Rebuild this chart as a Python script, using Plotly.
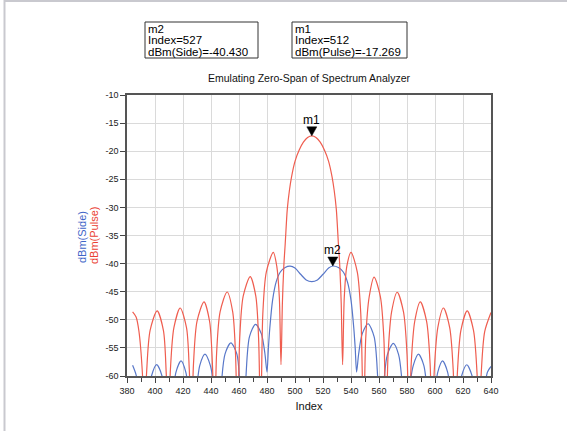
import plotly.graph_objects as go

# ---------------- data ----------------
pulse_index = [384, 386.5, 388.5, 391, 392.5, 394, 396.5, 401.5, 406, 408, 409.5,
               411, 413.5, 418, 422.5, 424.5, 426, 427.5, 430, 435, 439, 441, 442.5,
               444, 446.5, 451.5, 455.5, 457.5, 459, 460.5, 463, 468, 472, 474, 475.5,
               477, 479.5, 484.5, 487, 488.8, 490,
               491, 492, 493, 494.5, 496, 497.5, 500, 503, 506, 509, 512, 515, 518, 521,
               524, 526.5, 528, 529.5, 531, 532, 533, 534,
               535.2, 537, 540, 544.5, 547, 549,
               550.5, 553, 556.5, 561, 563.5, 565, 566.5, 569, 573, 577.5, 580, 581.5,
               583, 585.5, 589.5, 594, 596.5, 598, 599.5, 602, 606, 610.5, 613, 614.5,
               616, 618.5, 623, 627.5, 630, 631.5, 633, 635.5, 640]
pulse_dbm = [-48.6, -49.5, -52.0, -59.5, -70, -59.4, -51.9, -48.4, -51.9, -59.4, -70,
             -58.9, -51.4, -47.9, -51.4, -58.9, -70, -57.8, -50.3, -46.8, -50.3, -57.8, -70,
             -56.0, -48.6, -45.05, -48.6, -56.0, -70, -53.3, -45.8, -42.3, -45.8, -53.3, -70,
             -49.0, -41.5, -38.0, -40.5, -46.0, -58.0,
             -47.0, -40.5, -36.5, -30.3, -27.0, -24.6, -21.8, -19.8, -18.4, -17.55, -17.269,
             -17.55, -18.4, -19.8, -21.8, -24.6, -27.0, -30.3, -36.5, -40.5, -47.0, -58.0,
             -46.0, -40.5, -38.0, -41.5, -49.0, -70,
             -53.4, -45.9, -42.4, -45.9, -53.4, -70, -56.1, -48.6, -45.1, -48.6, -56.1, -70,
             -57.8, -50.3, -46.8, -50.3, -57.8, -70, -58.9, -51.4, -47.9, -51.4, -58.9, -70,
             -59.4, -51.9, -48.4, -51.9, -59.4, -70, -59.6, -52.1, -48.7]

side_index = [384, 386.5, 389.5, 392.6,
              395, 397.5, 401.2, 405, 407.5, 410,
              412.5, 415, 418.6, 422, 424.5, 427,
              429.5, 432, 435.7, 439.5, 442.5, 445,
              447.5, 450, 454.2, 458.5, 460.5, 463,
              465, 467.5, 471.8, 476, 478.5, 480,
              481, 482, 484, 486.5, 489.5, 493, 496.5, 500, 504, 508, 512, 516, 520, 524,
              527, 531, 534.5, 537.5, 540, 542, 543, 544,
              545.5, 548, 552.2, 556.5, 559, 561,
              563.5, 566, 570.2, 574, 576.5, 579,
              581.5, 584.5, 588.2, 592, 594.5, 597,
              599.5, 602, 605.4, 609, 611.5, 614,
              616.5, 619, 622.7, 626.5, 629, 631.5,
              634.5, 637.5, 640]
side_dbm = [-58.1, -59.8, -64, -75,
            -65, -60, -57.96, -60, -65, -75,
            -64.4, -59.3, -57.3, -59.3, -64.4, -75,
            -63.2, -58.1, -56.1, -58.1, -63.2, -75,
            -61.2, -56.1, -54.1, -56.1, -61.2, -75,
            -60.0, -53.0, -50.8, -52.5, -56.0, -59.3,
            -55.0, -51.5, -46.5, -43.3, -41.5, -40.7, -40.45, -40.8, -41.9, -42.9, -43.2,
            -42.9, -41.9, -40.8, -40.43, -40.7, -41.5, -43.3, -46.5, -51.5, -55.0, -59.3,
            -56.0, -52.5, -50.7, -53.0, -60.0, -75,
            -61.2, -56.2, -54.2, -56.2, -61.2, -75,
            -63.2, -58.1, -56.1, -58.1, -63.2, -75,
            -64.4, -59.3, -57.3, -59.3, -64.4, -75,
            -65, -60, -58.0, -60, -65, -75,
            -64, -59.3, -58.3]

marker_names = ["m1", "m2"]
marker_index = [512, 527]
marker_dbm = [-17.269, -40.430]
marker_label = ["dBm(Pulse)", "dBm(Side)"]

x_ticks = [380, 400, 420, 440, 460, 480, 500, 520, 540, 560, 580, 600, 620, 640]
y_ticks = [-10, -15, -20, -25, -30, -35, -40, -45, -50, -55, -60]

title_text = "Emulating Zero-Span of Spectrum Analyzer"
x_title = "Index"

# ---------------- layout constants ----------------
W, H = 567, 431
ML, MR, MT, MB = 127, 76, 95, 55
PW, PH = W - ML - MR, H - MT - MB
FONT = "Liberation Sans, Arial, sans-serif"
RED = "#ef5d4f"
BLUE = "#5877c9"


def px_to_paper_x(px):
    return (px - ML) / PW


def py_to_paper_y(py):
    return (H - MB - py) / PH


fig = go.Figure()
fig.add_trace(go.Scatter(x=side_index, y=side_dbm, mode="lines",
                         line=dict(color=BLUE, width=1.2, shape="spline", smoothing=0.8),
                         hoverinfo="skip", showlegend=False))
fig.add_trace(go.Scatter(x=pulse_index, y=pulse_dbm, mode="lines",
                         line=dict(color=RED, width=1.2, shape="spline", smoothing=0.8),
                         hoverinfo="skip", showlegend=False))

shapes = []
annotations = []
for name, xi, yi in zip(marker_names, marker_index, marker_dbm):
    shapes.append(dict(type="path", xref="x", yref="y", xsizemode="pixel", ysizemode="pixel",
                       xanchor=xi, yanchor=yi, path="M -5 9 L 5 9 L 0 0 Z",
                       fillcolor="black", line=dict(color="black", width=0.5)))
    annotations.append(dict(x=xi, y=yi, xref="x", yref="y", text=name, showarrow=False,
                            yanchor="bottom", xanchor="center", yshift=7,
                            font=dict(family=FONT, size=12, color="black")))

# marker readout boxes (m2 left, m1 right)
boxes = [(145, 22, 258, 58, 1), (292, 22, 407, 58, 0)]
for (x0, y0, x1, y1, k) in boxes:
    shapes.append(dict(type="rect", xref="paper", yref="paper",
                       x0=px_to_paper_x(x0), x1=px_to_paper_x(x1),
                       y0=py_to_paper_y(y0), y1=py_to_paper_y(y1),
                       line=dict(color="#333333", width=1), fillcolor="rgba(0,0,0,0)"))
    lines = [marker_names[k], "Index=%d" % marker_index[k],
             "%s=%.3f" % (marker_label[k], marker_dbm[k])]
    for j, t in enumerate(lines):
        annotations.append(dict(x=px_to_paper_x(x0 + 2), y=py_to_paper_y(y0 + 6.5 + 11.8 * j),
                                xref="paper", yref="paper", text=t, showarrow=False,
                                xanchor="left", yanchor="middle", borderpad=0,
                                font=dict(family=FONT, size=11.5, color="black")))

# y-axis title in two colours
annotations.append(dict(x=px_to_paper_x(82), y=py_to_paper_y(237), xref="paper", yref="paper",
                        text="dBm(Side)", textangle=-90, showarrow=False,
                        xanchor="center", yanchor="middle", borderpad=0,
                        font=dict(family=FONT, size=11, color="#3f66c8")))
annotations.append(dict(x=px_to_paper_x(94), y=py_to_paper_y(236), xref="paper", yref="paper",
                        text="dBm(Pulse)", textangle=-90, showarrow=False,
                        xanchor="center", yanchor="middle", borderpad=0,
                        font=dict(family=FONT, size=11, color="#ea3f33")))

# page frame (top and left)
shapes.append(dict(type="line", xref="paper", yref="paper",
                   x0=px_to_paper_x(4), x1=px_to_paper_x(W + 5),
                   y0=py_to_paper_y(1), y1=py_to_paper_y(1),
                   line=dict(color="#c9c9cf", width=2)))
shapes.append(dict(type="line", xref="paper", yref="paper",
                   x0=px_to_paper_x(4.5), x1=px_to_paper_x(4.5),
                   y0=py_to_paper_y(0), y1=py_to_paper_y(H + 5),
                   line=dict(color="#c9c9cf", width=2)))

axis_common = dict(showline=True, linecolor="#555555", linewidth=1.5, mirror=True,
                   showgrid=True, gridcolor="#dadada", gridwidth=1.2, zeroline=False,
                   ticks="outside", tickcolor="#444444", ticklen=5, tickwidth=1,
                   tickfont=dict(family=FONT, size=9, color="#222222"))

fig.update_layout(
    width=W, height=H,
    margin=dict(l=ML, r=MR, t=MT, b=MB),
    paper_bgcolor="white", plot_bgcolor="white",
    title=dict(text=title_text, x=0.5, xref="paper", xanchor="center",
               y=1 - 78 / H, yref="container", yanchor="middle",
               font=dict(family=FONT, size=10.5, color="#111111")),
    xaxis=dict(range=[380, 640], tickmode="array", tickvals=x_ticks,
               ticktext=[str(v) for v in x_ticks],
               minor=dict(dtick=10, tick0=380, ticks="outside", ticklen=4,
                          tickcolor="#444444", showgrid=False),
               title=dict(text=x_title, standoff=8,
                          font=dict(family=FONT, size=11, color="#111111")),
               **axis_common),
    yaxis=dict(range=[-60, -10], tickmode="array", tickvals=y_ticks,
               ticktext=[str(v) for v in y_ticks], **axis_common),
    shapes=shapes, annotations=annotations,
    showlegend=False,
)

fig.write_html("out.html")
